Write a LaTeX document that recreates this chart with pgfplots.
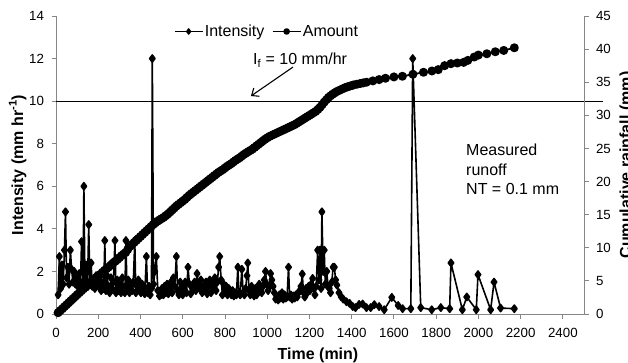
\documentclass[border=0pt]{standalone}
\usepackage{fontspec}
\setmainfont{Liberation Sans}
\usepackage{pgfplots}
\usepackage{pgfplotstable}
\pgfplotsset{compat=1.18}
\usetikzlibrary{arrows.meta}
\definecolor{axgray}{HTML}{868686}

\pgfplotstableread{
t I
10 0.9
16 2.7
22 1.2
28 2.3
34 1.4
40 3.0
45 4.8
50 1.7
56 2.2
62 1.4
68 3.0
74 2.1
80 1.5
86 2.0
92 1.4
98 1.7
104 1.3
110 1.9
116 1.5
121 3.4
128 1.4
132 6.0
137 1.6
143 2.3
149 1.3
155 4.2
160 1.5
166 2.4
172 1.3
178 1.6
184 1.2
190 1.8
196 1.4
202 1.3
208 1.6
214 1.1
220 1.4
226 1.2
231 3.45
236 1.1
242 1.8
248 1.3
254 1.0
260 1.7
266 1.2
272 1.5
279 3.45
284 1.0
290 1.6
296 1.1
302 1.4
308 1.0
314 1.7
320 1.2
326 1.0
331 3.45
336 1.2
342 1.6
348 1.0
354 1.3
360 1.1
366 1.5
373 3.45
378 1.0
384 1.3
390 1.6
396 1.1
402 1.0
408 1.4
414 1.2
420 0.95
428 2.7
434 1.0
440 1.3
446 0.9
452 1.2
456 12
462 1.4
468 2.0
475 2.7
482 1.1
490 0.85
496 0.9
502 1.2
508 0.9
514 1.3
520 1.0
526 1.4
532 0.95
538 1.2
544 1.5
550 1.0
556 1.7
562 1.3
570 2.7
576 1.1
582 0.9
588 1.5
594 1.1
600 0.9
606 1.3
612 1.5
618 1.0
625 2.2
632 1.4
638 0.95
644 1.3
650 1.2
656 1.5
662 1.1
668 1.9
674 1.4
680 1.2
686 1.6
692 1.0
698 1.3
704 1.1
710 1.5
716 0.95
722 1.3
728 1.6
734 1.0
740 1.4
746 1.2
752 1.7
758 1.1
764 1.5
770 2.2
775 2.7
782 1.6
788 0.9
794 1.4
800 1.0
806 1.3
812 0.9
818 1.2
824 1.0
830 0.9
836 1.1
842 0.85
848 1.0
854 0.9
861 2.2
866 1.0
872 0.9
880 2.1
886 1.0
892 0.9
898 1.2
904 1.8
908 2.4
914 1.1
920 0.9
926 1.3
932 1.0
938 0.85
944 1.2
950 0.9
956 1.0
962 1.4
968 1.1
974 1.0
980 1.3
986 1.6
992 2.0
998 1.4
1004 1.1
1010 1.3
1016 1.9
1022 1.6
1028 1.3
1034 1.0
1040 0.7
1046 0.8
1052 0.66
1058 0.9
1064 0.75
1070 1.0
1076 0.7
1082 0.9
1088 0.75
1094 0.8
1101 2.2
1106 0.8
1112 0.9
1118 0.7
1124 0.85
1130 0.75
1136 0.9
1142 0.8
1148 1.0
1154 1.1
1160 1.3
1166 1.88
1172 1.0
1178 0.8
1184 1.2
1190 1.0
1196 1.3
1202 1.1
1208 1.4
1215 1.67
1220 1.2
1226 0.9
1232 1.3
1239 3.0
1245 1.6
1250 3.0
1255 1.2
1259 4.8
1265 2.0
1270 3.0
1275 1.4
1282 2.0
1288 1.3
1294 1.2
1300 1.0
1306 1.5
1312 2.2
1318 2.2
1324 1.6
1330 1.36
1340 1.0
1350 0.81
1360 0.7
1375 0.58
1390 0.5
1405 0.35
1418 0.3
1435 0.45
1452 0.47
1470 0.3
1490 0.3
1507 0.44
1530 0.35
1554 0.2
1590 0.78
1620 0.4
1641 0.25
1680 0.25
1689 12
1727 0.3
1779 0.2
1822 0.3
1864 0.25
1870 2.4
1924 0.2
1945 0.8
1990 0.2
1998 1.85
2058 0.2
2074 1.5
2105 0.28
2170 0.25
}\intensity

\pgfplotstableread{
t R
10 0.2
20 0.5
30 0.8
40 1.1
50 1.4
60 1.7
70 2.0
80 2.3
90 2.6
100 2.9
110 3.2
120 3.5
130 3.8
140 4.05
150 4.3
160 4.6
170 4.9
180 5.2
190 5.5
200 5.75
210 6.0
220 6.3
230 6.6
240 6.85
250 7.1
260 7.4
270 7.7
280 7.95
290 8.2
300 8.5
310 8.8
320 9.05
330 9.3
340 9.75
350 10.2
360 10.5
370 10.8
380 11.1
390 11.4
400 11.7
410 12.0
420 12.3
430 12.6
440 12.9
450 13.2
460 13.5
470 13.75
480 14.0
490 14.2
500 14.4
510 14.6
520 14.85
530 15.1
540 15.4
550 15.7
560 16.0
570 16.3
580 16.55
590 16.8
600 17.05
610 17.3
620 17.6
630 17.9
640 18.15
650 18.4
660 18.65
670 18.9
680 19.15
690 19.4
700 19.65
710 19.9
720 20.15
730 20.4
740 20.65
750 20.9
760 21.15
770 21.4
780 21.6
790 21.8
800 22.05
810 22.3
820 22.5
830 22.7
840 22.95
850 23.2
860 23.4
870 23.6
880 23.85
890 24.1
900 24.3
910 24.5
920 24.7
930 24.9
940 25.15
950 25.4
960 25.65
970 25.9
980 26.15
990 26.4
1000 26.6
1010 26.8
1020 26.95
1030 27.1
1040 27.25
1050 27.4
1060 27.55
1070 27.7
1080 27.85
1090 28.0
1100 28.15
1110 28.3
1120 28.45
1130 28.6
1140 28.8
1150 29.0
1160 29.2
1170 29.4
1180 29.6
1190 29.8
1200 30.0
1210 30.2
1220 30.4
1230 30.6
1240 30.9
1250 31.2
1260 31.6
1270 32.0
1280 32.35
1290 32.7
1300 32.95
1310 33.2
1320 33.4
1330 33.6
1340 33.75
1350 33.9
1360 34.05
1370 34.2
1380 34.3
1390 34.4
1400 34.5
1410 34.6
1425 34.7
1440 34.8
1455 34.9
1470 35.0
1500 35.2
1530 35.4
1560 35.6
1600 35.8
1640 35.9
1690 36.2
1740 36.5
1780 36.7
1810 36.9
1840 37.5
1870 37.8
1900 37.9
1930 38.0
1950 38.3
1980 38.8
2000 39.1
2040 39.3
2080 39.6
2120 39.8
2170 40.2
}\amount

\pgfplotsset{
  base/.style={
    at={(56pt,48pt)}, anchor=south west,
    scale only axis, width=528pt, height=298pt,
    xmin=0, xmax=2500,
    axis line style={draw=axgray, line width=0.9pt, -},
    tick align=outside, major tick length=4.5pt,
    every tick/.style={draw=axgray, line width=0.9pt},
    tick label style={font=\fontsize{13.3}{15}\selectfont},
    /pgf/number format/assume math mode=true,
    /pgf/number format/1000 sep={},
    scaled ticks=false,
    clip=false,
  },
  intstyle/.style={black, line width=1.6pt, line join=round, mark=diamond*, mark size=3.6pt, mark options={solid}},
  amtstyle/.style={black, line width=1.8pt, line join=round, mark=*, mark size=3.6pt, mark options={solid}},
}

\begin{document}
\begin{tikzpicture}[x=1pt,y=1pt]
\begin{axis}[base,
  ymin=0, ymax=14,
  axis x line*=bottom, axis y line*=left,
  xtick={0,200,...,2400}, ytick={0,2,...,14},
  xticklabel style={yshift=-6pt},
  yticklabel style={xshift=-4pt},
]
\addplot[intstyle] table[x=t,y=I] {\intensity};
\addplot[black, line width=1.1pt, mark=none] coordinates {(0,10) (2590,10)};
\draw[black, line width=1.1pt, -{Straight Barb[length=6pt,width=10pt]}] (axis cs:1122,11.6) -- (axis cs:923,10.24);
\end{axis}
\begin{axis}[base,
  ymin=0, ymax=45,
  axis x line=none, axis y line*=right,
  ytick={0,5,...,45},
  yticklabel style={xshift=4pt},
  legend style={draw=none, fill=none, at={(0.223,0.948)}, anchor=west,
    font=\fontsize{16}{19}\selectfont, legend columns=2,
    /tikz/every even column/.append style={column sep=6pt},
    inner sep=0pt, nodes={inner sep=1.5pt}},
  legend image code/.code={\draw[mark repeat=2, mark phase=2, #1, mark size=2.6pt, line width=1.4pt] plot coordinates {(0pt,0pt) (14pt,0pt) (28pt,0pt)};},
]
\addlegendimage{intstyle}
\addlegendentry{Intensity}
\addplot[amtstyle] table[x=t,y=R] {\amount};
\addlegendentry{Amount}
\end{axis}
\node[anchor=west, font=\fontsize{16}{19}\selectfont, inner sep=0pt] at (253,302) {I\textsubscript{f} = 10 mm/hr};
\node[anchor=north west, align=left, font=\fontsize{16}{19.5}\selectfont, inner sep=0pt] at (466,218) {Measured\\runoff\\NT = 0.1 mm};
\node[rotate=90, anchor=base, font=\bfseries\fontsize{16}{19}\selectfont, inner sep=0pt] at (23,197) {Intensity (mm hr\textsuperscript{-1})};
\node[rotate=90, anchor=base, font=\bfseries\fontsize{16}{19}\selectfont, inner sep=0pt] at (631,197) {Cumulative rainfall (mm)};
\node[anchor=base, font=\bfseries\fontsize{16}{19}\selectfont, inner sep=0pt] at (318,2.5) {Time (min)};
\pgfresetboundingbox
\path (0,0) rectangle (628,362);
\end{tikzpicture}
\end{document}
